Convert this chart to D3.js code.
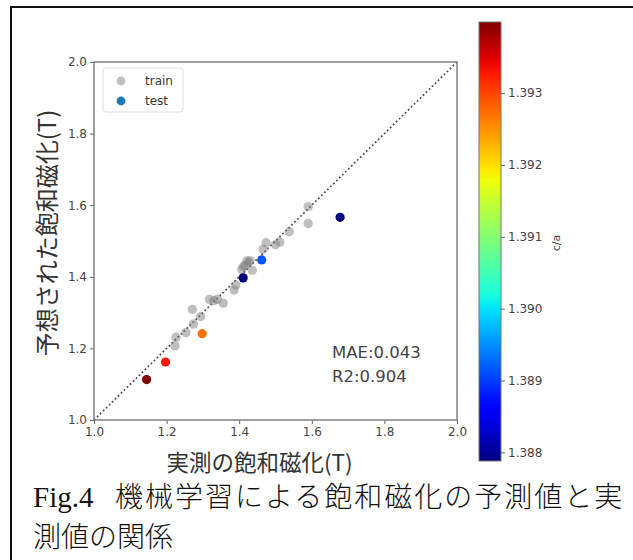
<!DOCTYPE html>
<html>
  <head>
    <meta charset="utf-8">
    <script src="https://d3js.org/d3.v7.min.js"></script>
    <style>
      body { margin: 0; background: #fff; }
      svg { display: block; }
      .tick text { font-family: "DejaVu Sans", sans-serif; fill: #444; }
    </style>
  </head>
  <body>
    <script>
      // train points: measured vs predicted saturation magnetization
      var trainActual = [1.223, 1.226, 1.253, 1.274, 1.294, 1.271, 1.318, 1.330, 1.340, 1.356,
                         1.386, 1.391, 1.407, 1.411, 1.416, 1.421, 1.426, 1.436, 1.466, 1.474,
                         1.500, 1.512, 1.538, 1.590, 1.590, 1.430];
      var trainPred   = [1.207, 1.231, 1.244, 1.268, 1.289, 1.309, 1.337, 1.333, 1.337, 1.326,
                         1.363, 1.377, 1.420, 1.428, 1.432, 1.444, 1.440, 1.418, 1.477, 1.495,
                         1.490, 1.497, 1.526, 1.596, 1.549, 1.445];

      // test points, coloured by c/a
      var testActual = [1.145, 1.197, 1.298, 1.411, 1.462, 1.678];
      var testPred   = [1.113, 1.162, 1.241, 1.397, 1.447, 1.566];
      var testCa     = [1.39399, 1.3933, 1.3927, 1.38790, 1.38916, 1.38788];

      var axisTicks = [1.0, 1.2, 1.4, 1.6, 1.8, 2.0];
      var cbarTicks = [1.388, 1.389, 1.390, 1.391, 1.392, 1.393];
      var legendLabels = ["train", "test"];

      var W = 633, H = 560;
      var svg = d3.select("body").append("svg")
          .attr("width", W)
          .attr("height", H);

      // page frame (top + left edges)
      svg.append("path")
          .attr("d", "M11,560 L11,7 L633,7")
          .attr("fill", "none")
          .attr("stroke", "#111")
          .attr("stroke-width", 2);

      var x = d3.scaleLinear().domain([1, 2]).range([94, 457]);
      var y = d3.scaleLinear().domain([1, 2]).range([420, 62]);

      // matplotlib "jet" colormap
      function jet(t) {
        var r = d3.scaleLinear().domain([0, 0.35, 0.66, 0.89, 1]).range([0, 0, 1, 1, 0.5]).clamp(true)(t);
        var g = d3.scaleLinear().domain([0, 0.125, 0.375, 0.64, 0.91, 1]).range([0, 0, 1, 1, 0, 0]).clamp(true)(t);
        var b = d3.scaleLinear().domain([0, 0.11, 0.34, 0.65, 1]).range([0.5, 1, 1, 0, 0]).clamp(true)(t);
        return d3.rgb(r * 255, g * 255, b * 255).formatHex();
      }
      var caExtent = d3.extent(testCa);
      var norm = d3.scaleLinear().domain(caExtent).range([0, 1]);

      // diagonal
      svg.append("line")
          .attr("x1", x(1)).attr("y1", y(1))
          .attr("x2", x(2)).attr("y2", y(2))
          .attr("stroke", "#444")
          .attr("stroke-width", 1.7)
          .attr("stroke-dasharray", "1.7,2.5");

      // train
      svg.append("g").selectAll("circle")
          .data(trainActual)
        .enter().append("circle")
          .attr("cx", function(d) { return x(d); })
          .attr("cy", function(d, i) { return y(trainPred[i]); })
          .attr("r", 4.7)
          .attr("fill", "#808080")
          .attr("fill-opacity", 0.5);

      // test
      svg.append("g").selectAll("circle")
          .data(testActual)
        .enter().append("circle")
          .attr("cx", function(d) { return x(d); })
          .attr("cy", function(d, i) { return y(testPred[i]); })
          .attr("r", 4.6)
          .attr("fill", function(d, i) { return jet(norm(testCa[i])); });

      // axes
      var gx = svg.append("g")
          .attr("transform", "translate(0,420)")
          .call(d3.axisBottom(x).tickValues(axisTicks).tickFormat(d3.format(".1f")).tickSize(4).tickPadding(3));
      var gy = svg.append("g")
          .attr("transform", "translate(94,0)")
          .call(d3.axisLeft(y).tickValues(axisTicks).tickFormat(d3.format(".1f")).tickSize(4).tickPadding(3));
      [gx, gy].forEach(function(g) {
        g.select(".domain").remove();
        g.selectAll(".tick line").attr("stroke", "#666");
        g.selectAll(".tick text").attr("font-size", 12);
      });

      svg.append("rect")
          .attr("x", x(1)).attr("y", y(2))
          .attr("width", x(2) - x(1)).attr("height", y(1) - y(2))
          .attr("fill", "none")
          .attr("stroke", "#777")
          .attr("stroke-width", 1.4);

      // axis labels
      var cjk = "'Noto Sans CJK JP', sans-serif";
      svg.append("text")
          .attr("x", (x(1) + x(2)) / 2 - 16).attr("y", 471)
          .attr("text-anchor", "middle")
          .attr("font-family", cjk)
          .attr("font-size", 22.5)
          .attr("fill", "#333")
          .text("実測の飽和磁化(T)");
      svg.append("text")
          .attr("transform", "translate(56,233) rotate(-90)")
          .attr("text-anchor", "middle")
          .attr("font-family", cjk)
          .attr("font-size", 24)
          .attr("fill", "#333")
          .text("予想された飽和磁化(T)");

      // metrics
      svg.append("text")
          .attr("x", 332).attr("y", 358)
          .attr("font-family", "'DejaVu Sans', sans-serif")
          .attr("font-size", 16.5)
          .attr("fill", "#444")
          .text("MAE:0.043");
      svg.append("text")
          .attr("x", 332).attr("y", 382)
          .attr("font-family", "'DejaVu Sans', sans-serif")
          .attr("font-size", 16.5)
          .attr("fill", "#444")
          .text("R2:0.904");

      // legend
      var lg = svg.append("g");
      lg.append("rect")
          .attr("x", 103).attr("y", 68)
          .attr("width", 80).attr("height", 44)
          .attr("rx", 3)
          .attr("fill", "#fff")
          .attr("stroke", "#ddd");
      legendLabels.forEach(function(l, i) {
        lg.append("circle")
            .attr("cx", 121).attr("cy", 81 + i * 20)
            .attr("r", 4.4)
            .attr("fill", i === 0 ? "#808080" : "#1f77b4")
            .attr("fill-opacity", i === 0 ? 0.5 : 1);
        lg.append("text")
            .attr("x", 145).attr("y", 85 + i * 20)
            .attr("font-family", "'DejaVu Sans', sans-serif")
            .attr("font-size", 12)
            .attr("fill", "#333")
            .text(l);
      });

      // colorbar
      var cb = d3.scaleLinear().domain(caExtent).range([461, 22]);
      var grad = svg.append("defs").append("linearGradient")
          .attr("id", "jet")
          .attr("x1", 0).attr("y1", 1).attr("x2", 0).attr("y2", 0);
      d3.range(0, 1.0001, 0.02).forEach(function(t) {
        grad.append("stop").attr("offset", t).attr("stop-color", jet(t));
      });
      svg.append("rect")
          .attr("x", 479).attr("y", cb(caExtent[1]))
          .attr("width", 22).attr("height", cb(caExtent[0]) - cb(caExtent[1]))
          .attr("fill", "url(#jet)")
          .attr("stroke", "#777")
          .attr("stroke-width", 1);
      var gc = svg.append("g")
          .attr("transform", "translate(501,0)")
          .call(d3.axisRight(cb).tickValues(cbarTicks).tickFormat(d3.format(".3f")).tickSize(4).tickPadding(3));
      gc.select(".domain").remove();
      gc.selectAll(".tick line").attr("stroke", "#666");
      gc.selectAll(".tick text").attr("font-size", 12);
      svg.append("text")
          .attr("transform", "translate(560,243) rotate(-90)")
          .attr("text-anchor", "middle")
          .attr("font-family", "'DejaVu Sans', sans-serif")
          .attr("font-size", 11)
          .attr("fill", "#444")
          .text("c/a");

      // caption
      svg.append("text")
          .attr("x", 33).attr("y", 507)
          .attr("font-size", 29)
          .attr("font-family", "'Liberation Serif', serif")
          .attr("fill", "#111")
          .text("Fig.4");
      svg.append("text")
          .attr("x", 115).attr("y", 507)
          .attr("font-size", 28)
          .attr("font-family", "'Noto Sans CJK JP', sans-serif")
          .attr("font-weight", 300)
          .attr("letter-spacing", 2)
          .attr("fill", "#111")
          .text("機械学習による飽和磁化の予測値と実");
      svg.append("text")
          .attr("x", 33).attr("y", 547)
          .attr("font-size", 28)
          .attr("font-family", "'Noto Sans CJK JP', sans-serif")
          .attr("font-weight", 300)
          .attr("fill", "#111")
          .text("測値の関係");
    </script>
  </body>
</html>
